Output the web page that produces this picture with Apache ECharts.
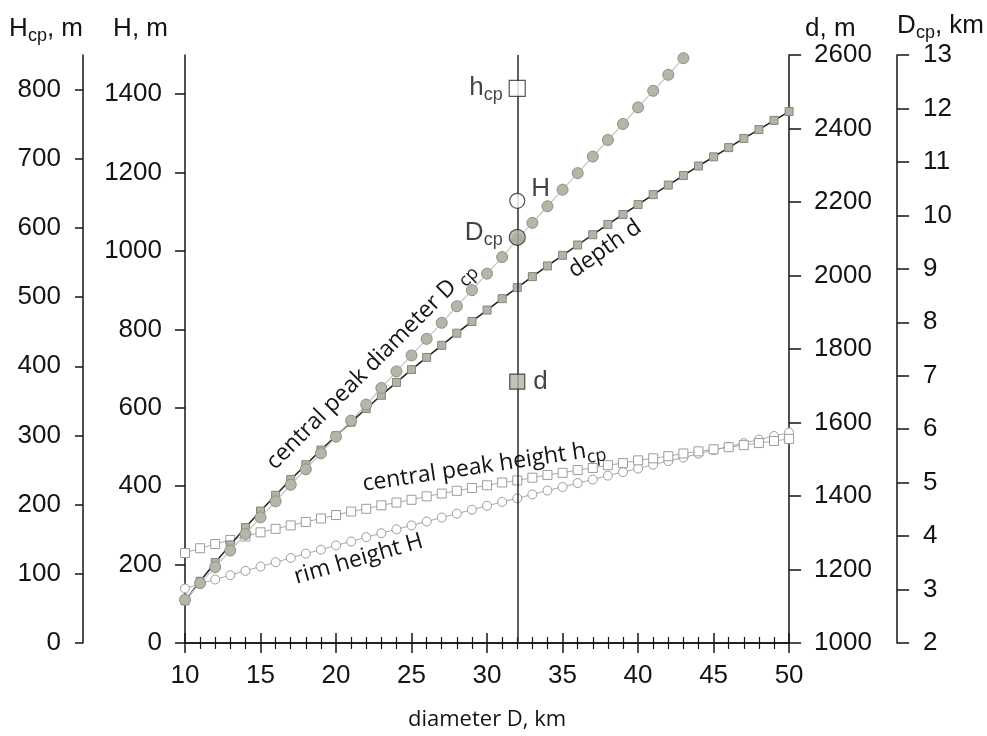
<!DOCTYPE html>
<html>
<head>
<meta charset="utf-8">
<script src="https://cdn.jsdelivr.net/npm/echarts@6/dist/echarts.min.js"></script>
<style>
  html, body { margin: 0; padding: 0; background: #fff; }
  #craterChart { width: 987px; height: 736px; }
</style>
</head>
<body>
<div id="craterChart"></div>
<script>
// crater diameter D, km (one point per km)
var diameters = [10, 11, 12, 13, 14, 15, 16, 17, 18, 19, 20, 21, 22, 23, 24, 25, 26, 27, 28, 29, 30,
  31, 32, 33, 34, 35, 36, 37, 38, 39, 40, 41, 42, 43, 44, 45, 46, 47, 48, 49, 50]
// central peak diameter Dcp, km (goes off the top after 43 km)
var dcpValues = [2.81, 3.12, 3.42, 3.73, 4.04, 4.35, 4.65, 4.96, 5.25, 5.55, 5.86, 6.16, 6.46, 6.77, 7.08,
  7.38, 7.69, 7.99, 8.30, 8.60, 8.91, 9.22, 9.55, 9.86, 10.17, 10.48, 10.79, 11.10, 11.41, 11.71, 12.02,
  12.33, 12.63, 12.94]
// depth d, m
var depthValues = [1115, 1168, 1219, 1267, 1314, 1359, 1402, 1445, 1485, 1525, 1564, 1601, 1638, 1674,
  1709, 1744, 1777, 1810, 1843, 1875, 1906, 1937, 1967, 1997, 2026, 2055, 2083, 2111, 2139, 2166, 2193,
  2220, 2246, 2272, 2298, 2323, 2348, 2373, 2397, 2422, 2446]
// central peak height hcp, m
var hcpValues = [130, 137, 143, 149, 154, 160, 165, 170, 175, 180, 185, 190, 194, 199, 203, 207, 212,
  216, 220, 224, 228, 232, 235, 239, 243, 246, 250, 253, 257, 260, 264, 267, 270, 274, 277, 280, 283,
  286, 289, 292, 295]
// rim height H, m
var rimValues = [139, 151, 162, 173, 184, 195, 206, 217, 228, 238, 249, 259, 270, 280, 290, 300, 310,
  320, 330, 340, 350, 360, 369, 379, 389, 398, 408, 417, 427, 436, 445, 455, 464, 473, 483, 492, 501,
  510, 519, 528, 537]

// tick labels
var hcpTicks = [0, 100, 200, 300, 400, 500, 600, 700, 800]
var rimTicks = [0, 200, 400, 600, 800, 1000, 1200, 1400]
var depthTicks = [1000, 1200, 1400, 1600, 1800, 2000, 2200, 2400, 2600]
var dcpTicks = [2, 3, 4, 5, 6, 7, 8, 9, 10, 11, 12, 13]

// key markers on the vertical line at D = 32 km (levels read on the H axis)
var keyDiameter = 32
var keyLevels = [1415, 1128, 1035, 667]

function pairs (xs, ys) {
  var out = []
  for (var i = 0; i < ys.length; i++) {
    out.push([xs[i], ys[i]])
  }
  return out
}

var tickFont = "'Liberation Sans', Arial, sans-serif"
var noteFont = "'Open Sans', sans-serif"
var ink = '#141414'
var richName = {
  m: { fontSize: 26, fontFamily: tickFont, color: ink },
  s: { fontSize: 18, fontFamily: tickFont, color: ink, padding: [14, 0, 0, 0] }
}

function plain (v) {
  return String(v)
}

function xAxisOpt (pos) {
  return {
    type: 'value',
    position: pos,
    min: 10,
    max: 50,
    interval: 5,
    splitLine: { show: false },
    axisLine: { show: true, lineStyle: { color: ink, width: 1.5 } },
    axisTick: { show: true, inside: true, length: 10, lineStyle: { color: ink, width: 1.5 } },
    minorTick: { show: true, splitNumber: 5, length: 6, lineStyle: { color: ink, width: 1.2 } },
    axisLabel: {
      show: pos === 'bottom',
      fontSize: 26,
      fontFamily: tickFont,
      color: ink,
      margin: 20,
      formatter: plain
    },
    name: pos === 'bottom' ? 'diameter D, km' : '',
    nameLocation: 'middle',
    nameGap: 66,
    nameTextStyle: { fontSize: 22, fontFamily: noteFont, color: ink }
  }
}

function yAxisOpt (o) {
  return {
    type: 'value',
    position: o.pos,
    offset: o.offset,
    min: o.min,
    max: o.max,
    splitLine: { show: false },
    axisLine: { show: true, onZero: false, lineStyle: { color: ink, width: 1.5 } },
    axisTick: { show: true, inside: false, length: o.tick, lineStyle: { color: ink, width: 1.5 }, customValues: o.ticks },
    axisLabel: { fontSize: 26, fontFamily: tickFont, color: ink, margin: o.margin, customValues: o.ticks, formatter: plain },
    name: o.name,
    nameLocation: 'end',
    nameGap: 26,
    nameTextStyle: {
      align: o.pos === 'left' ? 'right' : 'left',
      verticalAlign: 'middle',
      padding: o.namePad,
      rich: richName
    }
  }
}

var myChart = echarts.init(document.getElementById('craterChart'), null, { renderer: 'canvas' })

var option = {
  animation: false,
  backgroundColor: '#fff',
  grid: { left: 185, right: 195, top: 55, bottom: 85, containLabel: false },
  xAxis: [xAxisOpt('bottom'), xAxisOpt('top')],
  yAxis: [
    yAxisOpt({ pos: 'left', offset: 102, min: 0, max: 850, ticks: hcpTicks, tick: 8, margin: 22,
      name: '{m|H}{s|cp}{m|, m}', namePad: [0, 0, 0, 0] }),
    yAxisOpt({ pos: 'left', offset: 0, min: 0, max: 1500, ticks: rimTicks, tick: 10, margin: 23,
      name: '{m|H, m}', namePad: [0, 17, 0, 0] }),
    yAxisOpt({ pos: 'right', offset: 0, min: 1000, max: 2600, ticks: depthTicks, tick: 12, margin: 25,
      name: '{m|d, m}', namePad: [0, 0, 0, 16] }),
    yAxisOpt({ pos: 'right', offset: 108, min: 2, max: 13, ticks: dcpTicks, tick: 12, margin: 26,
      name: '{m|D}{s|cp}{m|, km}', namePad: [0, 0, 0, 0] })
  ],
  series: [
    {
      name: 'rim height H',
      type: 'line',
      xAxisIndex: 0,
      yAxisIndex: 1,
      data: pairs(diameters, rimValues),
      symbol: 'circle',
      symbolSize: 9,
      lineStyle: { color: '#a9a9a9', width: 1 },
      itemStyle: { color: '#fff', borderColor: '#9c9c9c', borderWidth: 1 },
      z: 2
    },
    {
      name: 'central peak height hcp',
      type: 'line',
      xAxisIndex: 0,
      yAxisIndex: 0,
      data: pairs(diameters, hcpValues),
      symbol: 'rect',
      symbolSize: 9,
      lineStyle: { color: '#a9a9a9', width: 1 },
      itemStyle: { color: '#fff', borderColor: '#9c9c9c', borderWidth: 1 },
      z: 2
    },
    {
      name: 'depth d',
      type: 'line',
      xAxisIndex: 0,
      yAxisIndex: 2,
      data: pairs(diameters, depthValues),
      symbol: 'rect',
      symbolSize: 8,
      lineStyle: { color: '#1e1e1e', width: 1.5 },
      itemStyle: { color: '#b3b3a6', borderColor: '#85857c', borderWidth: 1 },
      z: 3
    },
    {
      name: 'central peak diameter Dcp',
      type: 'line',
      xAxisIndex: 0,
      yAxisIndex: 3,
      data: pairs(diameters, dcpValues),
      symbol: 'circle',
      symbolSize: 11,
      clip: true,
      lineStyle: { color: '#c4c4c4', width: 1.2 },
      itemStyle: { color: '#b5b5a8', borderColor: '#8f8f86', borderWidth: 1 },
      z: 4
    },
    {
      name: 'key',
      type: 'scatter',
      xAxisIndex: 0,
      yAxisIndex: 1,
      z: 6,
      markLine: {
        silent: true,
        symbol: 'none',
        label: { show: false },
        lineStyle: { color: '#2a2a2a', width: 1.5, type: 'solid' },
        data: [{ xAxis: keyDiameter }]
      },
      data: [
        {
          value: [keyDiameter, keyLevels[0]],
          symbol: 'rect',
          symbolSize: 16,
          itemStyle: { color: '#fff', borderColor: '#2a2a2a', borderWidth: 1.2 },
          label: { show: true, position: 'left', distance: 6, formatter: '{m|h}{s|cp}', rich: richName }
        },
        {
          value: [keyDiameter, keyLevels[1]],
          symbol: 'circle',
          symbolSize: 15,
          itemStyle: { color: '#fff', borderColor: '#2a2a2a', borderWidth: 1.2 },
          label: { show: true, position: 'right', distance: 6, offset: [0, -12], formatter: '{m|H}', rich: richName }
        },
        {
          value: [keyDiameter, keyLevels[2]],
          symbol: 'circle',
          symbolSize: 16,
          itemStyle: { color: '#aeae9f', borderColor: '#2a2a2a', borderWidth: 1.2 },
          label: { show: true, position: 'left', distance: 6, offset: [0, -4], formatter: '{m|D}{s|cp}', rich: richName }
        },
        {
          value: [keyDiameter, keyLevels[3]],
          symbol: 'rect',
          symbolSize: 15,
          itemStyle: { color: '#b3b3a6', borderColor: '#2a2a2a', borderWidth: 1.2 },
          label: { show: true, position: 'right', distance: 8, formatter: '{m|d}', rich: richName }
        }
      ]
    }
  ]
}

myChart.setOption(option)

// rotated curve captions, anchored in data units (x: D km, y: H axis metres)
function caption (text, d, h, angle) {
  var p = myChart.convertToPixel({ xAxisIndex: 0, yAxisIndex: 1 }, [d, h])
  return {
    type: 'text',
    x: p[0],
    y: p[1],
    rotation: angle * Math.PI / 180,
    z: 10,
    style: {
      text: text,
      align: 'center',
      verticalAlign: 'middle',
      fill: ink,
      rich: {
        t: { fontSize: 23, fontFamily: noteFont, fill: ink },
        s: { fontSize: 18, fontFamily: noteFont, fill: ink, padding: [14, 0, 0, 0] }
      }
    }
  }
}

myChart.setOption({
  graphic: [
    caption('{t|central peak diameter D }{s|cp}', 22.3, 708, 45),
    caption('{t|depth d}', 37.8, 1005, 35),
    caption('{t|central peak height h}{s|cp}', 29.8, 451, 8.5),
    caption('{t|rim height H}', 21.5, 214, 16)
  ]
})
</script>
</body>
</html>
